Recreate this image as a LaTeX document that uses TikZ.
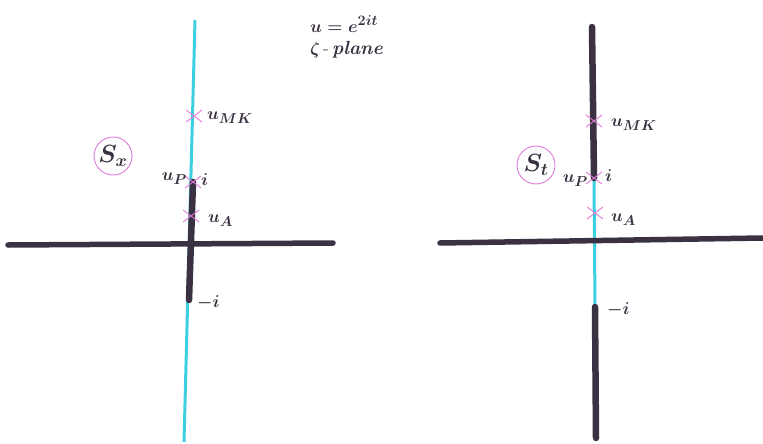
\documentclass[tikz,border=0pt]{standalone}
\usepackage{tikz}
\definecolor{cyanl}{HTML}{3CCFE0}
\definecolor{ink}{HTML}{3A3142}
\definecolor{pinkx}{HTML}{E07AD8}
\tikzset{
  cut/.style={line width=6.5pt, ink, line cap=round},
  axis/.style={line width=5.5pt, ink, line cap=round},
  cyanline/.style={line width=3pt, cyanl},
  crossmark/.style={pinkx, line width=0.9pt},
  lab/.style={inner sep=1pt, font=\fontsize{19}{21}\selectfont\boldmath, ink},
  sheet/.style={circle, draw=pinkx, line width=0.9pt, minimum size=38pt, inner sep=0pt, font=\fontsize{26}{28}\selectfont\boldmath, text=ink}
}
\newcommand{\xmark}[1]{\draw[crossmark] ($(#1)+(-8pt,-6pt)$) -- ($(#1)+(8pt,6pt)$) ($(#1)+(-8pt,6pt)$) -- ($(#1)+(8pt,-6pt)$);}
\usetikzlibrary{calc}
\begin{document}
\begin{tikzpicture}[x=1pt,y=-1pt]
\useasboundingbox (0,0) rectangle (763,444);
% ---------- left plane ----------
\coordinate (Ltop) at (195,20);
\coordinate (Lbot) at (184,442);
\coordinate (Lip) at (193,182);
\coordinate (Lim) at (189,300);
\coordinate (LhA) at (8,245);
\coordinate (LhB) at (333,243);
\coordinate (LMK) at (194,116);
\coordinate (LA) at (191,216);
\draw[cyanline] (Ltop) -- (Lbot);
\draw[axis] (LhA) -- (LhB);
\draw[cut] (Lip) -- (Lim);
\xmark{LMK}
\xmark{Lip}
\xmark{LA}
\node[lab, anchor=west] (lmk) at (206,118) {$u_{\scriptstyle MK}$};
\node[lab, anchor=east] (lup) at (188,179) {$u_{\scriptstyle P}$};
\node[lab, anchor=west] (li) at (200,180) {$i$};
\node[lab, anchor=west] (lua) at (207,221) {$u_{\scriptstyle A}$};
\node[lab, anchor=west] (lmi) at (196,303) {$-i$};
\node[sheet] (sx) at (113,156) {$S_x$};
% ---------- title ----------
\node[lab, anchor=west] (eq) at (309,24) {$u = e^{2it}$};
\node[lab, anchor=west] (pl) at (309,50) {$\zeta$\,-\,\textit{\textbf{plane}}};
% ---------- right plane ----------
\coordinate (Rtop) at (592,27);
\coordinate (Rip) at (594,178);
\coordinate (Rim) at (595,307);
\coordinate (Rbot) at (596,438);
\coordinate (RhA) at (440,243);
\coordinate (RhB) at (763,238);
\coordinate (RMK) at (594,121);
\coordinate (RA) at (595,213);
\draw[cyanline] (Rip) -- (Rim);
\draw[axis] (RhA) -- (RhB);
\draw[cut] (Rtop) -- (Rip);
\draw[cut] (Rim) -- (Rbot);
\xmark{RMK}
\xmark{Rip}
\xmark{RA}
\node[lab, anchor=west] (rmk) at (610,125) {$u_{\scriptstyle MK}$};
\node[lab, anchor=east] (rup) at (589,181) {$u_{\scriptstyle P}$};
\node[lab, anchor=west] (ri) at (604,176) {$i$};
\node[lab, anchor=west] (rua) at (610,220) {$u_{\scriptstyle A}$};
\node[lab, anchor=west] (rmi) at (606,310) {$-i$};
\node[sheet] (st) at (536,165) {$S_t$};
\end{tikzpicture}
\end{document}
